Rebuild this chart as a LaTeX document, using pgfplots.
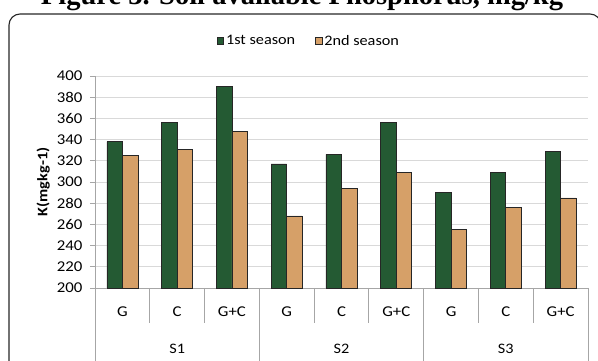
\documentclass[border=0pt]{standalone}
\usepackage{pgfplots}
\pgfplotsset{compat=1.18}
\usepackage{fontspec}
\setmainfont{Carlito}[FakeStretch=1.12]
\newfontfamily\titlefont{Liberation Serif}
\definecolor{grn}{HTML}{245A33}
\definecolor{tan}{HTML}{D6A068}
\definecolor{gridc}{HTML}{D9D9D9}
\definecolor{axc}{HTML}{A6A6A6}
\pgfplotstableread{
x first second
0 338 325
1 356 331
2 390 348
3 317 268
4 326 294
5 356 309
6 290 255
7 309 276
8 329 285
}\datatab
\begin{document}
\begin{tikzpicture}
\useasboundingbox (0pt,0pt) rectangle (598pt,361pt);
\node[font=\titlefont\bfseries\fontsize{28.5}{30}\selectfont, anchor=base] at (302pt,356.5pt) {Figure 3. Soil available Phosphorus, mg/kg};
\draw[line width=1.1pt, draw=black!85, rounded corners=11pt] (9pt,-20pt) -- (9pt,347pt) -- (601pt,347pt) -- (601pt,-20pt);
\begin{axis}[
  at={(95pt,73pt)}, anchor=south west,
  scale only axis, width=493pt, height=212pt,
  ymin=200, ymax=400, ytick={200,220,...,400},
  xmin=-0.5, xmax=8.5,
  xtick={0,...,8}, xticklabels={G,C,G+C,G,C,G+C,G,C,G+C},
  xtick style={draw=none},
  xticklabel style={anchor=center, yshift=-19pt},
  ybar=0pt, bar width=15.5pt,
  axis x line*=bottom, axis y line*=left,
  axis line style={-, draw=axc, line width=0.8pt},
  ytick style={draw=axc, line width=0.8pt},
  tick align=outside, major tick length=5pt,
  ymajorgrids, major grid style={draw=gridc, line width=0.9pt},
  yticklabel style={xshift=-4pt},
  tick label style={font=\fontsize{15}{17}\selectfont},
  /pgf/number format/assume math mode=true,
  ylabel={K(mgkg-1)},
  ylabel style={at={(axis description cs:-0.105,0.5)}, anchor=center, font=\bfseries\fontsize{14.5}{16}\selectfont},
  clip=false,
  legend style={at={(axis description cs:0.434,1.165)}, anchor=center, draw=none, fill=none,
    font=\fontsize{14.5}{16}\selectfont, legend columns=2,
    /tikz/every even column/.append style={column sep=18pt}},
  legend image code/.code={\draw[#1, draw=black!85, line width=0.6pt] (0pt,-3.3pt) rectangle (6.5pt,3.3pt);},
]
\addplot[fill=grn, draw=black!85, line width=0.7pt] table[x=x,y=first] {\datatab};
\addlegendentry{1st season}
\addplot[fill=tan, draw=black!85, line width=0.7pt] table[x=x,y=second] {\datatab};
\addlegendentry{2nd season}
\pgfplotsinvokeforeach{0.5,1.5,3.5,4.5,6.5,7.5}{
  \draw[axc, line width=0.8pt] (axis cs:#1,200) -- ++(0pt,-35pt);
}
\pgfplotsinvokeforeach{-0.5,2.5,5.5,8.5}{
  \draw[axc, line width=0.8pt] (axis cs:#1,200) -- ++(0pt,-75pt);
}
\node[font=\fontsize{14.5}{16}\selectfont] at ([yshift=-61pt]axis cs:1,200) {S1};
\node[font=\fontsize{14.5}{16}\selectfont] at ([yshift=-61pt]axis cs:4,200) {S2};
\node[font=\fontsize{14.5}{16}\selectfont] at ([yshift=-61pt]axis cs:7,200) {S3};
\end{axis}
\end{tikzpicture}
\end{document}
